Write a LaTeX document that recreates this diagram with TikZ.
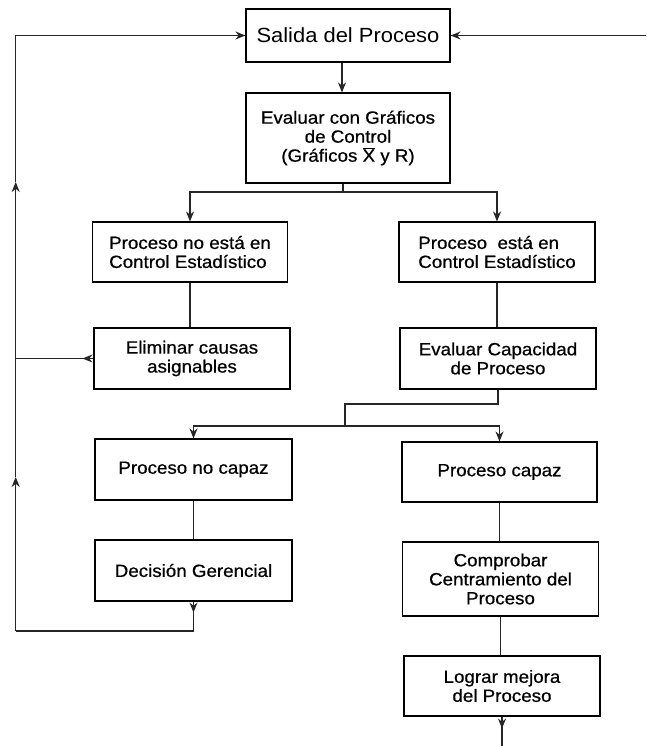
\documentclass[tikz,border=0pt]{standalone}
\usepackage{fontspec}
\setmainfont{Liberation Sans}[FakeStretch=1.07]
\newfontfamily\boldishfont{Liberation Sans}[FakeStretch=1.06,FakeBold=0.7]
\usetikzlibrary{arrows.meta}
\tikzset{
  box/.style={draw=black, line width=1.1pt, inner sep=0pt, align=center,
    font=\boldishfont\fontsize{17.7}{19}\selectfont},
  lbox/.style={box, align=left},
  conn/.style={line width=1.1pt, draw=black!85},
  arr/.style={conn, -{Stealth[length=10pt,width=8pt]}}
}
\begin{document}
\begin{tikzpicture}[x=1pt,y=-1pt]
\useasboundingbox (0,0) rectangle (646,746);
\node[box, minimum width=204pt, minimum height=53pt, font=\rmfamily\fontsize{20.5}{22}\selectfont] (b1) at (348,35.5) {Salida del Proceso};
\node[box, minimum width=204pt, minimum height=90pt] (b2) at (348,138) {Evaluar con Gráficos\\de Control\\(Gráficos $\overline{\mbox{X}}$ y R)};
\node[lbox, minimum width=195pt, minimum height=60pt] (b3) at (190,252) {Proceso no está en\\Control Estadístico};
\node[lbox, minimum width=196pt, minimum height=60pt] (b4) at (497,252) {Proceso\ \ está en\\Control Estadístico};
\node[box, minimum width=196pt, minimum height=61pt] (b5) at (192,358.5) {Eliminar causas\\asignables};
\node[box, minimum width=196pt, minimum height=61pt] (b6) at (498,358.5) {Evaluar Capacidad\\de Proceso};
\node[box, minimum width=197pt, minimum height=61pt] (b7) at (193.5,469.5) {Proceso no capaz};
\node[box, minimum width=195pt, minimum height=60pt] (b8) at (499.5,472) {Proceso capaz};
\node[box, minimum width=197pt, minimum height=61pt] (b9) at (193.5,570.5) {Decisión Gerencial};
\node[box, minimum width=196pt, minimum height=74pt] (b10) at (500.5,579) {Comprobar\\Centramiento del\\Proceso};
\node[box, minimum width=196pt, minimum height=60pt] (b11) at (502,686) {Lograr mejora\\del Proceso};
% coordinates
\coordinate (rin) at (646,35.5);
\coordinate (j1) at (343,192);
\coordinate (k1) at (345,404);
\coordinate (j2) at (345,426);
\coordinate (lb) at (15.7,631);
\coordinate (l1) at (15.7,477);
\coordinate (l2) at (15.7,182);
\coordinate (bot) at (502,746);
% connectors
\draw[arr] (rin) -- (b1.east);
\draw[arr] ([xshift=-6pt]b1.south) -- ([xshift=-6pt]b2.north);
\draw[conn] ([xshift=-5pt]b2.south) -- (j1);
\draw[arr] (j1) -| (b3.north);
\draw[arr] (j1) -| (b4.north);
\draw[conn] (b3.south) -- (b3.south |- b5.north);
\draw[conn] (b4.south) -- (b4.south |- b6.north);
\draw[conn] (b6.south) |- (k1) -- (j2);
\draw[arr] (j2) -| (b7.north);
\draw[arr] (j2) -| (b8.north);
\draw[conn] (b7.south) -- (b7.south |- b9.north);
\draw[conn] (b8.south) -- (b8.south |- b10.north);
\draw[conn] (b10.south) -- (b10.south |- b11.north);
% feedback loop
\draw[arr] (b9.south) -- ++(0,11);
\draw[conn] (b9.south) |- (lb);
\draw[arr] (lb) -- (l1);
\draw[arr] (l1) -- (l2);
\draw[arr] (l2) |- (b1.west);
\draw[arr] (b5.west) -- ++(-11,0);
\draw[conn] (b5.west) -- (b5.west -| lb);
% bottom output
\draw[arr] (b11.south) -- ++(0,12);
\draw[conn] (b11.south) -- (bot);
\end{tikzpicture}
\end{document}
